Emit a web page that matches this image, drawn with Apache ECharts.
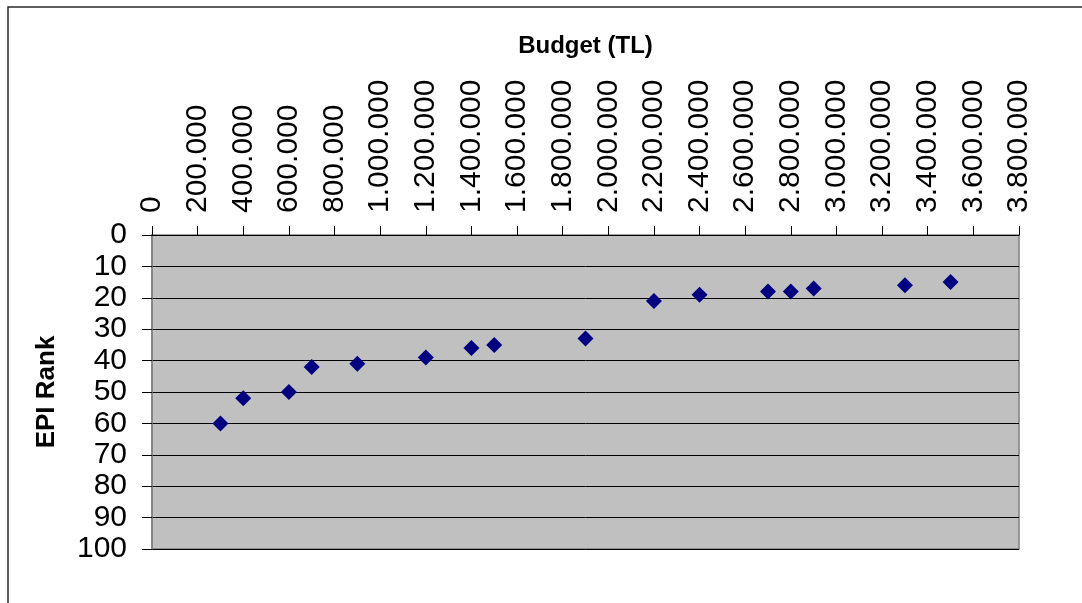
<!DOCTYPE html>
<html>
<head>
<meta charset="utf-8">
<script src="https://cdn.jsdelivr.net/npm/echarts@6/dist/echarts.min.js"></script>
<style>
  html, body { margin: 0; padding: 0; background: #fff; }
  #chart { width: 1082px; height: 603px; }
</style>
</head>
<body>
<div id="chart"></div>
<script>
// Budget (TL) against EPI rank
const budgets = [300000, 400000, 600000, 700000, 900000, 1200000, 1400000, 1500000,
                 1900000, 2200000, 2400000, 2700000, 2800000, 2900000, 3300000, 3500000];
const epiRanks = [60, 52, 50, 42, 41, 39, 36, 35, 33, 21, 19, 18, 18, 17, 16, 15];

const xTitle = 'Budget (TL)';
const yTitle = 'EPI Rank';

// thousands separated by dots, e.g. 1.200.000
function dotted(v) {
  return String(Math.round(v)).replace(/\B(?=(\d{3})+(?!\d))/g, '.');
}

const points = budgets.map((b, i) => [b, epiRanks[i]]);

const chart = echarts.init(document.getElementById('chart'));
chart.setOption({
  animation: false,
  backgroundColor: '#ffffff',
  textStyle: { fontFamily: 'Liberation Sans, Arial, sans-serif' },
  graphic: [{
    type: 'rect',
    shape: { x: 8, y: 7, width: 1090, height: 610 },
    style: { fill: 'none', stroke: '#2a2a2a', lineWidth: 1.5 },
    silent: true
  }],
  grid: {
    left: 152, top: 235, width: 867, height: 314,
    show: true, backgroundColor: '#c0c0c0', borderColor: '#808080', borderWidth: 1.5
  },
  xAxis: {
    type: 'value',
    position: 'top',
    min: 0, max: 3800000, interval: 200000,
    name: xTitle,
    nameLocation: 'middle',
    nameGap: 177,
    nameTextStyle: { fontSize: 24, fontWeight: 'bold', color: '#000' },
    axisLine: { show: true, lineStyle: { color: '#000', width: 1 } },
    axisTick: { show: true, inside: false, length: 9, lineStyle: { color: '#000' } },
    axisLabel: {
      rotate: 90, margin: 22, fontSize: 30, color: '#000',
      formatter: dotted
    },
    splitLine: { show: false }
  },
  yAxis: {
    type: 'value',
    inverse: true,
    min: 0, max: 100, interval: 10,
    name: yTitle,
    nameLocation: 'middle',
    nameGap: 92,
    nameRotate: 90,
    nameTextStyle: { fontSize: 26, fontWeight: 'bold', color: '#000' },
    axisLine: { show: true, lineStyle: { color: '#808080', width: 1.5 } },
    axisTick: { show: true, inside: false, length: 10, lineStyle: { color: '#000' } },
    axisLabel: { margin: 25, fontSize: 30, color: '#000' },
    splitLine: { show: true, lineStyle: { color: '#000', width: 1 } }
  },
  series: [{
    type: 'scatter',
    data: points,
    symbol: 'diamond',
    symbolSize: [16, 16],
    itemStyle: { color: '#000080', opacity: 1 }
  }]
});
</script>
</body>
</html>
